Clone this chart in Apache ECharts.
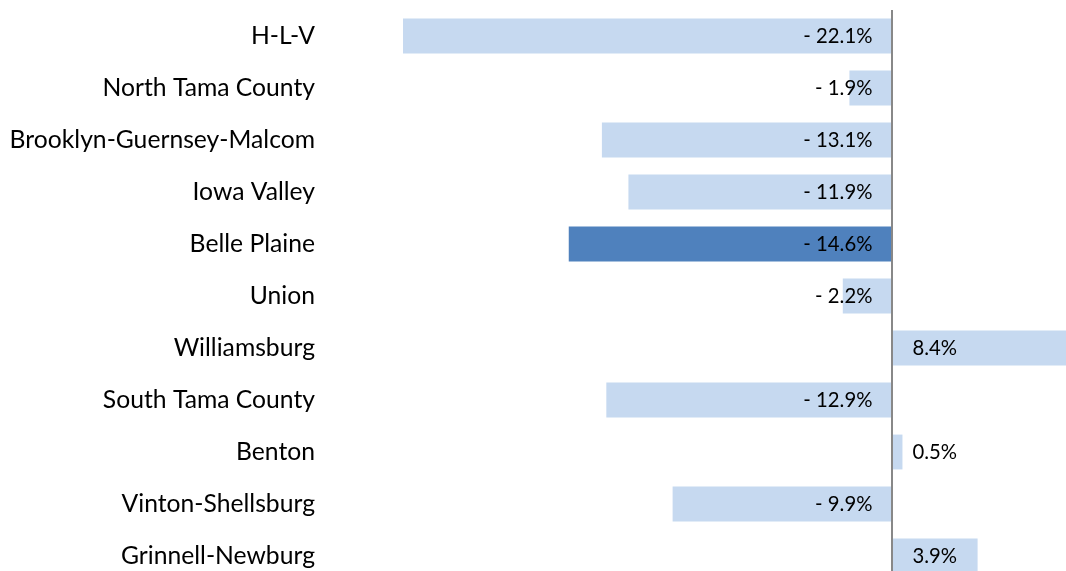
<!DOCTYPE html>
<html>
<head>
<meta charset="utf-8">
<script src="https://cdn.jsdelivr.net/npm/echarts@6/dist/echarts.min.js"></script>
<style>
  html, body { margin: 0; padding: 0; background: #fff; }
  #chart { width: 1066px; height: 571px; }
</style>
</head>
<body>
<div id="chart"></div>
<script>
var districts = ['H-L-V', 'North Tama County', 'Brooklyn-Guernsey-Malcom', 'Iowa Valley',
    'Belle Plaine', 'Union', 'Williamsburg', 'South Tama County', 'Benton',
    'Vinton-Shellsburg', 'Grinnell-Newburg'];
var change = [-22.1, -1.9, -13.1, -11.9, -14.6, -2.2, 8.4, -12.9, 0.5, -9.9, 3.9];
var highlight = 'Belle Plaine';

var fontFamily = 'Lato, "Open Sans", sans-serif';

var barData = change.map(function (v, i) {
    return {
        value: v,
        itemStyle: { color: districts[i] === highlight ? '#4F81BD' : '#C6D9F0' },
        label: {
            position: v < 0 ? 'insideRight' : 'insideLeft',
            distance: v < 0 ? 19 : 21
        }
    };
});

var chart = echarts.init(document.getElementById('chart'));
chart.setOption({
    animation: false,
    grid: {
        left: 403, right: 0, top: 10, height: 572,
        containLabel: false,
        outerBoundsMode: 'none'
    },
    xAxis: {
        type: 'value',
        min: -22.1,
        max: 7.9,
        show: false
    },
    yAxis: {
        type: 'category',
        data: districts,
        inverse: true,
        axisLine: { show: false },
        axisTick: { show: false },
        splitLine: { show: false },
        axisLabel: {
            margin: 88,
            fontSize: 24.7,
            color: '#000',
            fontFamily: fontFamily
        }
    },
    series: [{
        type: 'bar',
        data: barData,
        barCategoryGap: '33%',
        label: {
            show: true,
            fontSize: 20.3,
            color: '#000',
            fontFamily: fontFamily,
            formatter: function (p) {
                var v = p.value;
                return v < 0 ? '- ' + Math.abs(v).toFixed(1) + '%' : v.toFixed(1) + '%';
            }
        },
        markLine: {
            silent: true,
            symbol: 'none',
            label: { show: false },
            lineStyle: { color: '#888', width: 2, type: 'solid' },
            data: [{ xAxis: 0 }]
        }
    }]
});
</script>
</body>
</html>
